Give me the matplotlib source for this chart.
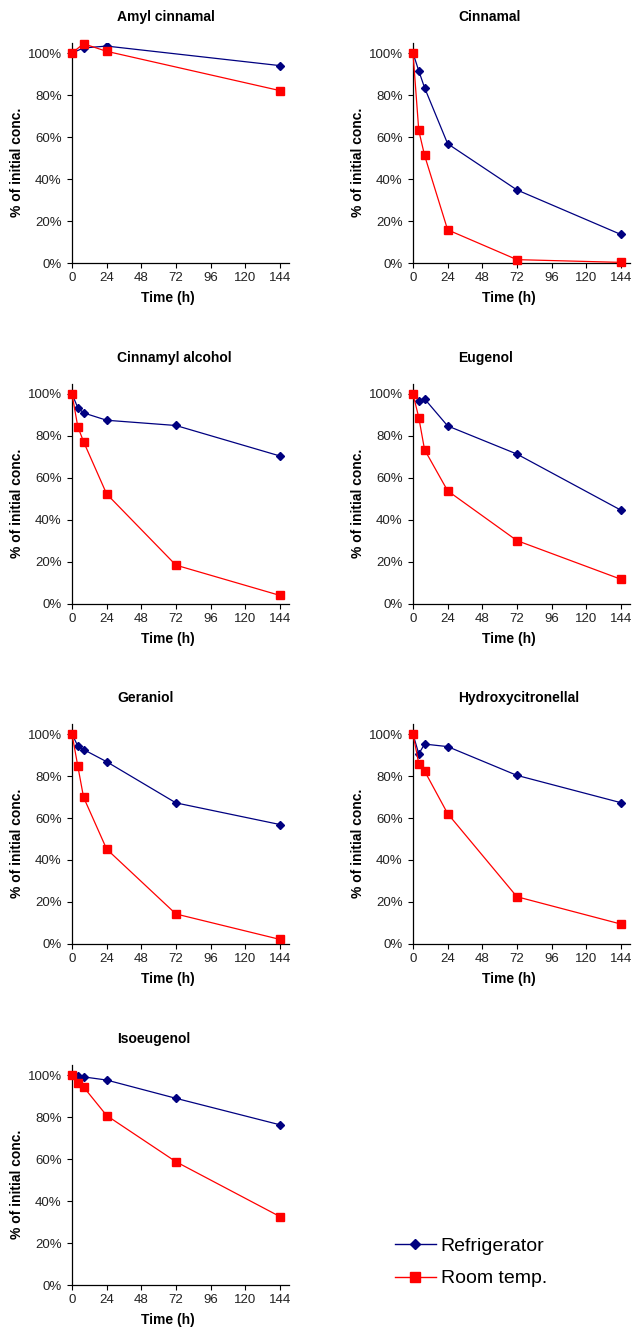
import numpy as np
import matplotlib
matplotlib.use("Agg")
import matplotlib.pyplot as plt
from matplotlib.ticker import FuncFormatter
from matplotlib.lines import Line2D

plt.rcParams['font.family'] = ['Liberation Sans', 'DejaVu Sans']

time_h = [0, 4, 8, 24, 72, 144]
nan = np.nan

compounds = ["Amyl cinnamal", "Cinnamal", "Cinnamyl alcohol", "Eugenol",
             "Geraniol", "Hydroxycitronellal", "Isoeugenol"]

refrigerator = {
    "Amyl cinnamal":      [100, nan, 102.4, 103.3, nan, 94.0],
    "Cinnamal":           [100, 91.5, 83.5, 56.8, 34.8, 13.6],
    "Cinnamyl alcohol":   [100, 93.5, 91.0, 87.5, 85.0, 70.5],
    "Eugenol":            [100, 96.8, 97.7, 84.8, 71.4, 44.7],
    "Geraniol":           [100, 94.3, 92.6, 86.8, 67.2, 56.9],
    "Hydroxycitronellal": [100, 90.5, 95.2, 94.0, 80.3, 67.3],
    "Isoeugenol":         [100, 99.4, 99.1, 97.6, 88.9, 76.3],
}
room_temp = {
    "Amyl cinnamal":      [100, nan, 104.4, 100.8, nan, 82.1],
    "Cinnamal":           [100, 63.1, 51.3, 15.8, 1.6, 0.3],
    "Cinnamyl alcohol":   [100, 84.5, 77.3, 52.4, 18.5, 4.1],
    "Eugenol":            [100, 88.8, 73.5, 53.9, 30.2, 11.8],
    "Geraniol":           [100, 84.8, 69.9, 45.2, 14.3, 2.2],
    "Hydroxycitronellal": [100, 85.9, 82.4, 62.1, 22.5, 9.5],
    "Isoeugenol":         [100, 96.0, 94.3, 80.7, 58.7, 32.6],
}

x_ticks = [0, 24, 48, 72, 96, 120, 144]
y_ticks = [0, 20, 40, 60, 80, 100]

W, H = 634, 1330
fig = plt.figure(figsize=(W / 100, H / 100), dpi=100)

col_left = [72, 413]
row_bottom = [263, 604, 944, 1285]
ax_w = 216.5
ax_h = 220.5

BLUE = "#000080"
RED = "#FF0000"

for i, name in enumerate(compounds):
    r, c = divmod(i, 2)
    lx = col_left[c]
    by = row_bottom[r]
    ax = fig.add_axes([lx / W, 1 - by / H, ax_w / W, ax_h / H])
    t = np.array(time_h, dtype=float)
    rv = np.array(refrigerator[name], dtype=float)
    rt = np.array(room_temp[name], dtype=float)
    m1 = ~np.isnan(rv)
    m2 = ~np.isnan(rt)
    ax.plot(t[m1], rv[m1], color=BLUE, lw=0.9, marker='D', ms=3.6,
            mec=BLUE, mfc=BLUE, zorder=3)
    ax.plot(t[m2], rt[m2], color=RED, lw=0.9, marker='s', ms=5.2,
            mec=RED, mfc=RED, zorder=4, clip_on=False)
    ax.set_xlim(0, 150)
    ax.set_ylim(0, 105)
    ax.set_xticks(x_ticks)
    ax.set_yticks(y_ticks)
    ax.yaxis.set_major_formatter(FuncFormatter(lambda v, p: f"{int(v)}%"))
    for s in ['top', 'right']:
        ax.spines[s].set_visible(False)
    for s in ['left', 'bottom']:
        ax.spines[s].set_linewidth(0.9)
    ax.tick_params(axis='both', direction='out', length=3.5, width=0.8,
                   labelsize=9.5, colors='black', labelcolor='#222222', pad=3)
    ax.tick_params(axis='y', pad=4)
    # title
    fig.text((lx + 45) / W, 1 - (by - 246) / H, name, ha='left', va='center',
             fontsize=10, fontweight='bold')
    # y label
    fig.text((lx - 55) / W, 1 - (by - 101) / H, "% of initial conc.",
             rotation=90, ha='center', va='center', fontsize=10,
             fontweight='bold')
    # x label
    fig.text((lx + 95.5) / W, 1 - (by + 35) / H, "Time (h)", ha='center',
             va='center', fontsize=10, fontweight='bold')

handles = [Line2D([], [], color=BLUE, lw=1.0, marker='D', ms=5.5),
           Line2D([], [], color=RED, lw=1.0, marker='s', ms=7)]
fig.legend(handles, ["Refrigerator", "Room temp."], loc='center left',
           bbox_to_anchor=(395 / W, 1 - 1262.5 / H), frameon=False,
           fontsize=14, handlelength=2.1, handletextpad=0.25,
           labelspacing=0.75, borderpad=0, borderaxespad=0)

fig.savefig("out.png", dpi=100)
